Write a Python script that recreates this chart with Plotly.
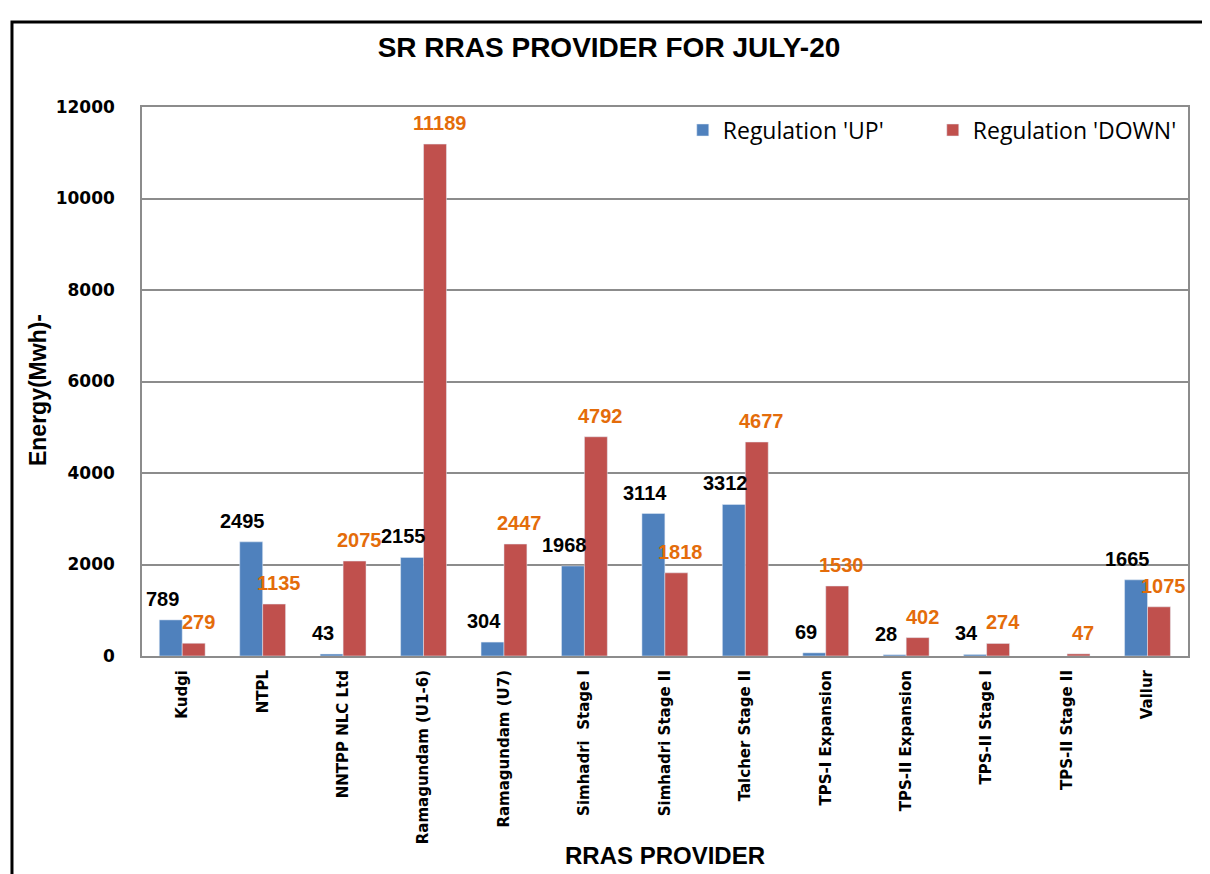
import plotly.graph_objects as go

providers = ["Kudgi", "NTPL", "NNTPP NLC Ltd", "Ramagundam (U1-6)", "Ramagundam (U7)",
             "Simhadri  Stage I", "Simhadri Stage II", "Talcher Stage II", "TPS-I Expansion",
             "TPS-II Expansion", "TPS-II Stage I", "TPS-II Stage II", "Vallur"]
reg_up = [789, 2495, 43, 2155, 304, 1968, 3114, 3312, 69, 28, 34, None, 1665]
reg_down = [279, 1135, 2075, 11189, 2447, 4792, 1818, 4677, 1530, 402, 274, 47, 1075]

LABEL_FONT = "Liberation Sans"

fig = go.Figure()
fig.add_trace(go.Bar(x=providers, y=reg_up, name="Regulation 'UP'",
                     marker=dict(color="#4F81BD")))
fig.add_trace(go.Bar(x=providers, y=reg_down, name="Regulation 'DOWN'",
                     marker=dict(color="#C0504D")))

# value labels, drawn above the bars (Excel-style, nudged off the bar)
for vals, dx, col in [(reg_up, -20, "black"), (reg_down, 16, "#E46C0A")]:
    for p, v in zip(providers, vals):
        if v is None:
            continue
        fig.add_annotation(x=p, y=v, text=f"<b>{v}</b>", showarrow=False,
                           xshift=dx, yshift=8, yanchor="bottom",
                           font=dict(family=LABEL_FONT, size=20, color=col))

fig.update_layout(
    width=1202, height=866,
    paper_bgcolor="white", plot_bgcolor="white",
    margin=dict(l=134, r=22, t=99, b=218, autoexpand=False),
    barmode="group", bargap=0.43, bargroupgap=0,
    title=dict(text="<b>SR RRAS PROVIDER FOR JULY-20</b>", x=0.5, xanchor="center",
               y=0.955, yanchor="middle",
               font=dict(family="Liberation Sans", size=28, color="black")),
    legend=dict(orientation="h", x=0.995, xanchor="right", y=0.958, yanchor="middle",
                font=dict(family="Open Sans", size=23, color="black"),
                bgcolor="rgba(0,0,0,0)", itemwidth=30, entrywidth=205),
    font=dict(family="DejaVu Sans", color="black"),
    showlegend=True,
)
fig.update_yaxes(
    range=[0, 12000], dtick=2000, tickformat="d", automargin=False,
    showgrid=True, gridcolor="#8C8C8C", gridwidth=1.5,
    showline=True, linecolor="#8C8C8C", linewidth=1.5, mirror=True,
    tickfont=dict(family="DejaVu Sans", size=17, color="black", weight="bold"),
    ticks="", ticklabelstandoff=22, zeroline=False,
)
fig.update_xaxes(
    showline=True, linecolor="#8C8C8C", linewidth=2, mirror=True, automargin=False,
    tickangle=-90, tickfont=dict(family="DejaVu Sans", size=15, color="black", weight="bold"),
    ticks="", ticklabelstandoff=6,
)
# axis titles as annotations so they can sit as in the original
fig.add_annotation(xref="paper", yref="paper", x=0.5, y=-0.3625, showarrow=False,
                   text="<b>RRAS PROVIDER</b>", yanchor="middle",
                   font=dict(family="Liberation Sans", size=24, color="black"))
fig.add_annotation(xref="paper", yref="paper", x=-0.0994, y=0.4845, showarrow=False,
                   text="<b>Energy(Mwh)-</b>", textangle=-90, xanchor="center", yanchor="middle",
                   font=dict(family="Liberation Sans", size=23, color="black"))
# outer chart frame
fig.add_shape(type="rect", xref="paper", yref="paper",
              x0=-0.1243, x1=1.0163, y0=-0.5, y1=1.1548,
              line=dict(color="black", width=3), layer="above")

fig.write_html("out.html")
